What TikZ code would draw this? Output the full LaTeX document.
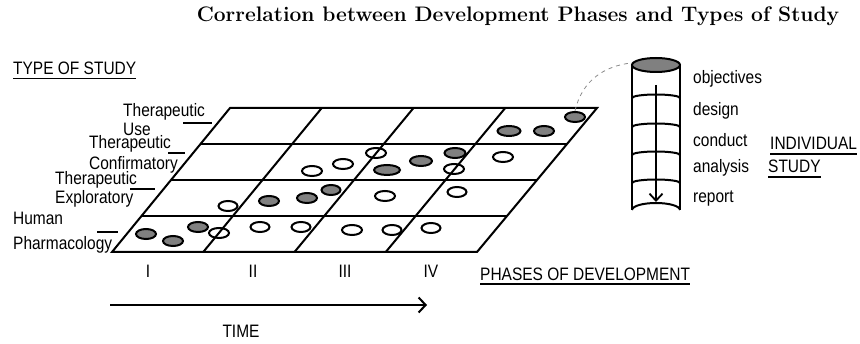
\documentclass[tikz,border=0pt]{standalone}
\usepackage{fontspec}
\usetikzlibrary{shapes.geometric,arrows.meta,calc}
\newfontfamily\labfont[FakeStretch=0.86]{Liberation Sans}
\begin{document}
\begin{tikzpicture}[x=1pt,y=-1pt,
  lbl/.style={font=\labfont\fontsize{18}{20}\selectfont, inner sep=0pt, anchor=base west},
  lblc/.style={lbl, anchor=base},
  gridline/.style={line width=2pt},
  tick/.style={line width=2pt},
  uline/.style={line width=1.6pt},
  ovbase/.style={ellipse, draw, line width=2pt, inner sep=0pt, minimum height=10pt},
  fullov/.style={ovbase, fill=black!50},
  openov/.style={ovbase},
  cyl/.style={line width=2pt},
  link/.style={draw=black!45, line width=0.8pt, dash pattern=on 4pt off 4pt}
]
\useasboundingbox (0,0) rectangle (860,344);

% title
\node[font=\bfseries\fontsize{21}{24}\selectfont, inner sep=0pt, anchor=base] (title) at (518,22) {Correlation between Development Phases and Types of Study};

% grid
\coordinate (A) at (112,252);
\coordinate (B) at (477,252);
\coordinate (C) at (597,108);
\coordinate (D) at (230,108);
\draw[gridline] (A) -- (B) -- (C) -- (D) -- cycle;
\foreach \t in {0.25,0.5,0.75}{
  \draw[gridline] ($(A)!\t!(D)$) -- ($(B)!\t!(C)$);
  \draw[gridline] ($(A)!\t!(B)$) -- ($(D)!\t!(C)$);
}

% filled ovals
\foreach \x/\y/\w [count=\i] in {146/234/20, 173/241/20, 198/227/20, 269/201/20, 307/198/20, 331/190/19, 387/170/26, 421/161/22, 455/153/21, 509/131/23, 544/131/20, 575/117/20}
  \node[fullov, minimum width=\w pt] (f\i) at (\x,\y) {};

% open ovals
\foreach \x/\y/\w [count=\i] in {312/171/20, 343/164/20, 228/206/19, 219/233/20, 260/227/19, 301/227/19, 352/230/20, 392/230/19, 431/228/19, 376/153/20, 454/169/20, 503/157/20, 385/196/20, 457/192/19}
  \node[openov, minimum width=\w pt] (o\i) at (\x,\y) {};

% type of study labels
\node[lbl] (tos) at (13,75) {TYPE OF STUDY};
\draw[uline] ([yshift=-3.5pt]tos.base west) -- ([yshift=-3.5pt]tos.base east);

\node[lbl] (tu1) at (123,116.5) {Therapeutic};
\node[lbl] (tu2) at (123,135.5) {Use};
\draw[tick] (183,123) -- (212,123);
\node[lbl] (tc1) at (89,148.5) {Therapeutic};
\node[lbl] (tc2) at (89,170) {Confirmatory};
\draw[tick] (168,153) -- (185,153);
\node[lbl] (te1) at (55,184.5) {Therapeutic};
\node[lbl] (te2) at (55,203.5) {Exploratory};
\draw[tick] (130,189) -- (155,189);
\node[lbl] (hp1) at (13,225) {Human};
\node[lbl] (hp2) at (13,249.5) {Pharmacology};
\draw[tick] (97,232) -- (118,232);

% phases
\node[lblc] (p1) at (148,278) {I};
\node[lblc] (p2) at (253,278) {II};
\node[lblc] (p3) at (345,278) {III};
\node[lblc] (p4) at (431,278) {IV};
\node[lbl] (pod) at (480,280.5) {PHASES OF DEVELOPMENT};
\draw[uline] ([yshift=-3.5pt]pod.base west) -- ([yshift=-3.5pt]pod.base east);

% time arrow
\coordinate (t0) at (110,305);
\coordinate (t1) at (427,305);
\draw[line width=2pt, -{Straight Barb[length=7pt,width=15pt,line width=2pt]}] (t0) -- (t1);
\node[lblc] (time) at (241,337.5) {TIME};

% cylinder
\draw[cyl] (632,65) -- (632,210);
\draw[cyl] (680,65) -- (680,210);
\draw[cyl] (632,210) arc[start angle=180, end angle=360, x radius=24pt, y radius=-7pt];
\draw[cyl, fill=black!50] (656,65) ellipse [x radius=24pt, y radius=7pt];
\foreach \yy in {98,127,155,183}
  \draw[cyl] (632,\yy) arc[start angle=180, end angle=360, x radius=24pt, y radius=-3.5pt];
\coordinate (c0) at (656,85);
\coordinate (c1) at (656,202);
\draw[line width=1.8pt, -{Straight Barb[length=7pt,width=13pt,line width=1.8pt]}] (c0) -- (c1);
\coordinate (ctop) at (631,63);

\node[lbl] (s1) at (693,84) {objectives};
\node[lbl] (s2) at (693,116) {design};
\node[lbl] (s3) at (693,147) {conduct};
\node[lbl] (s4) at (693,173) {analysis};
\node[lbl] (s5) at (693,203) {report};
\node[lbl] (ind) at (770,150) {INDIVIDUAL};
\draw[uline] ([yshift=-4pt]ind.base west) -- ([yshift=-4pt]ind.base east);
\node[lbl] (stu) at (768,173) {STUDY};
\draw[uline] ([yshift=-4pt]stu.base west) -- ([yshift=-4pt]stu.base east);

% link
\draw[link] (f12.north) .. controls (582,80) and (605,66) .. (ctop);
\end{tikzpicture}
\end{document}
